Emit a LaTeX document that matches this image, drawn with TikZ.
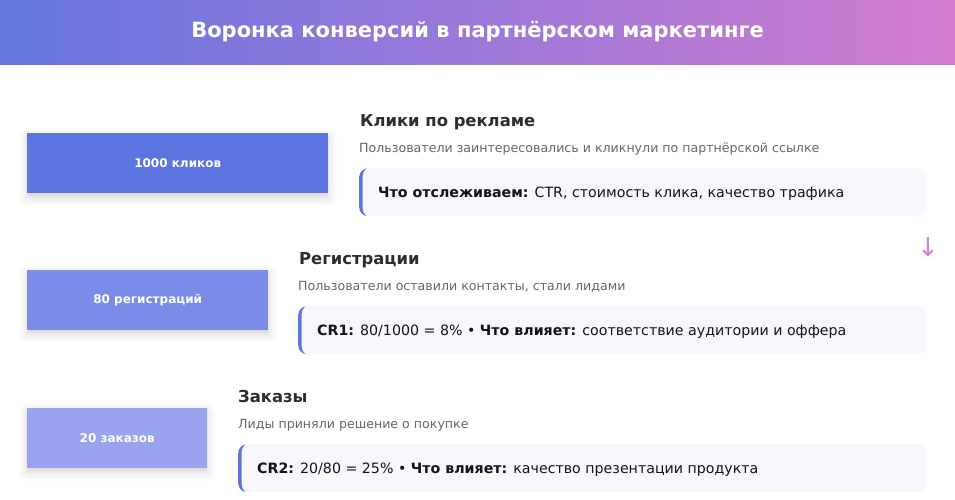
\documentclass[tikz,border=0pt]{standalone}
\usepackage{fontspec}
\setmainfont{DejaVu Sans}
\newfontfamily\symfont{DejaVu Sans}
\usetikzlibrary{shadows.blur}
\definecolor{hdrL}{RGB}{100,118,224}
\definecolor{hdrR}{RGB}{211,123,208}
\definecolor{barA}{RGB}{92,116,224}
\definecolor{barB}{RGB}{122,139,232}
\definecolor{barC}{RGB}{153,163,238}
\definecolor{boxbg}{RGB}{247,248,254}
\definecolor{accent}{RGB}{92,116,224}
\definecolor{ttl}{RGB}{45,45,45}
\definecolor{subc}{RGB}{102,102,102}
\definecolor{txt}{RGB}{20,20,20}
\definecolor{arr}{RGB}{212,126,212}
\tikzset{
  barbox/.style={rectangle, anchor=north west, minimum height=60, inner sep=0,
    text=white, font=\fontsize{12}{14}\selectfont\bfseries,
    blur shadow={shadow xshift=0pt, shadow yshift=-4pt, shadow blur radius=9pt, shadow opacity=18}},
  stagetitle/.style={anchor=base west, inner sep=0, text=ttl, font=\fontsize{16.4}{20}\selectfont\bfseries},
  stagesub/.style={anchor=base west, inner sep=0, text=subc, font=\fontsize{12.6}{15}\selectfont},
  infobox/.style={rectangle, rounded corners=9, anchor=north west, fill=boxbg, minimum height=48, inner sep=0,
    path picture={\fill[accent, even odd rule]
      ([xshift=-3pt, yshift=-3pt]path picture bounding box.south west) rectangle ([xshift=3pt, yshift=3pt]path picture bounding box.north east)
      [rounded corners=9] ([xshift=3.5pt, yshift=-1.5pt]path picture bounding box.south west) rectangle ([xshift=12pt, yshift=1.5pt]path picture bounding box.north east);}},
  infotext/.style={anchor=base west, inner sep=0, text=txt, font=\fontsize{14.2}{17}\selectfont},
}
\begin{document}
\begin{tikzpicture}[x=1pt,y=-1pt]
\useasboundingbox (0,0) rectangle (955,500);
% header
\node[rectangle, anchor=north west, inner sep=0, minimum width=955, minimum height=64, left color=hdrL, right color=hdrR, draw=none] (header) at (0,0) {};
\node[anchor=base, inner sep=0, text=white, font=\fontsize{21}{25}\selectfont\bfseries] (title) at (477.5,38) {Воронка конверсий в партнёрском маркетинге};

% stage 1
\node[barbox, fill=barA, minimum width=301] (bar1) at (27,133) {1000 кликов};
\node[stagetitle] (t1) at (360,127) {Клики по рекламе};
\node[stagesub] (s1) at (359,153) {Пользователи заинтересовались и кликнули по партнёрской ссылке};
\node[infobox, minimum width=568] (b1) at (359,168) {};
\node[infotext] (i1) at (378,197) {\textbf{Что отслеживаем:} CTR, стоимость клика, качество трафика};

% arrow
\node[anchor=center, inner sep=0, text=arr, font=\symfont\fontsize{26}{30}\selectfont] (arrow) at (928,247) {↓};

% stage 2
\node[barbox, fill=barB, minimum width=241] (bar2) at (27,270) {80 регистраций};
\node[stagetitle] (t2) at (299,264) {Регистрации};
\node[stagesub] (s2) at (298,290) {Пользователи оставили контакты, стали лидами};
\node[infobox, minimum width=629] (b2) at (298,306) {};
\node[infotext] (i2) at (317,335) {\textbf{CR1:} 80/1000 = 8\% • \textbf{Что влияет:} соответствие аудитории и оффера};

% stage 3
\node[barbox, fill=barC, minimum width=180] (bar3) at (27,408) {20 заказов};
\node[stagetitle] (t3) at (238,402) {Заказы};
\node[stagesub] (s3) at (238,428) {Лиды приняли решение о покупке};
\node[infobox, minimum width=689] (b3) at (238,444) {};
\node[infotext] (i3) at (257,473) {\textbf{CR2:} 20/80 = 25\% • \textbf{Что влияет:} качество презентации продукта};
\end{tikzpicture}
\end{document}
